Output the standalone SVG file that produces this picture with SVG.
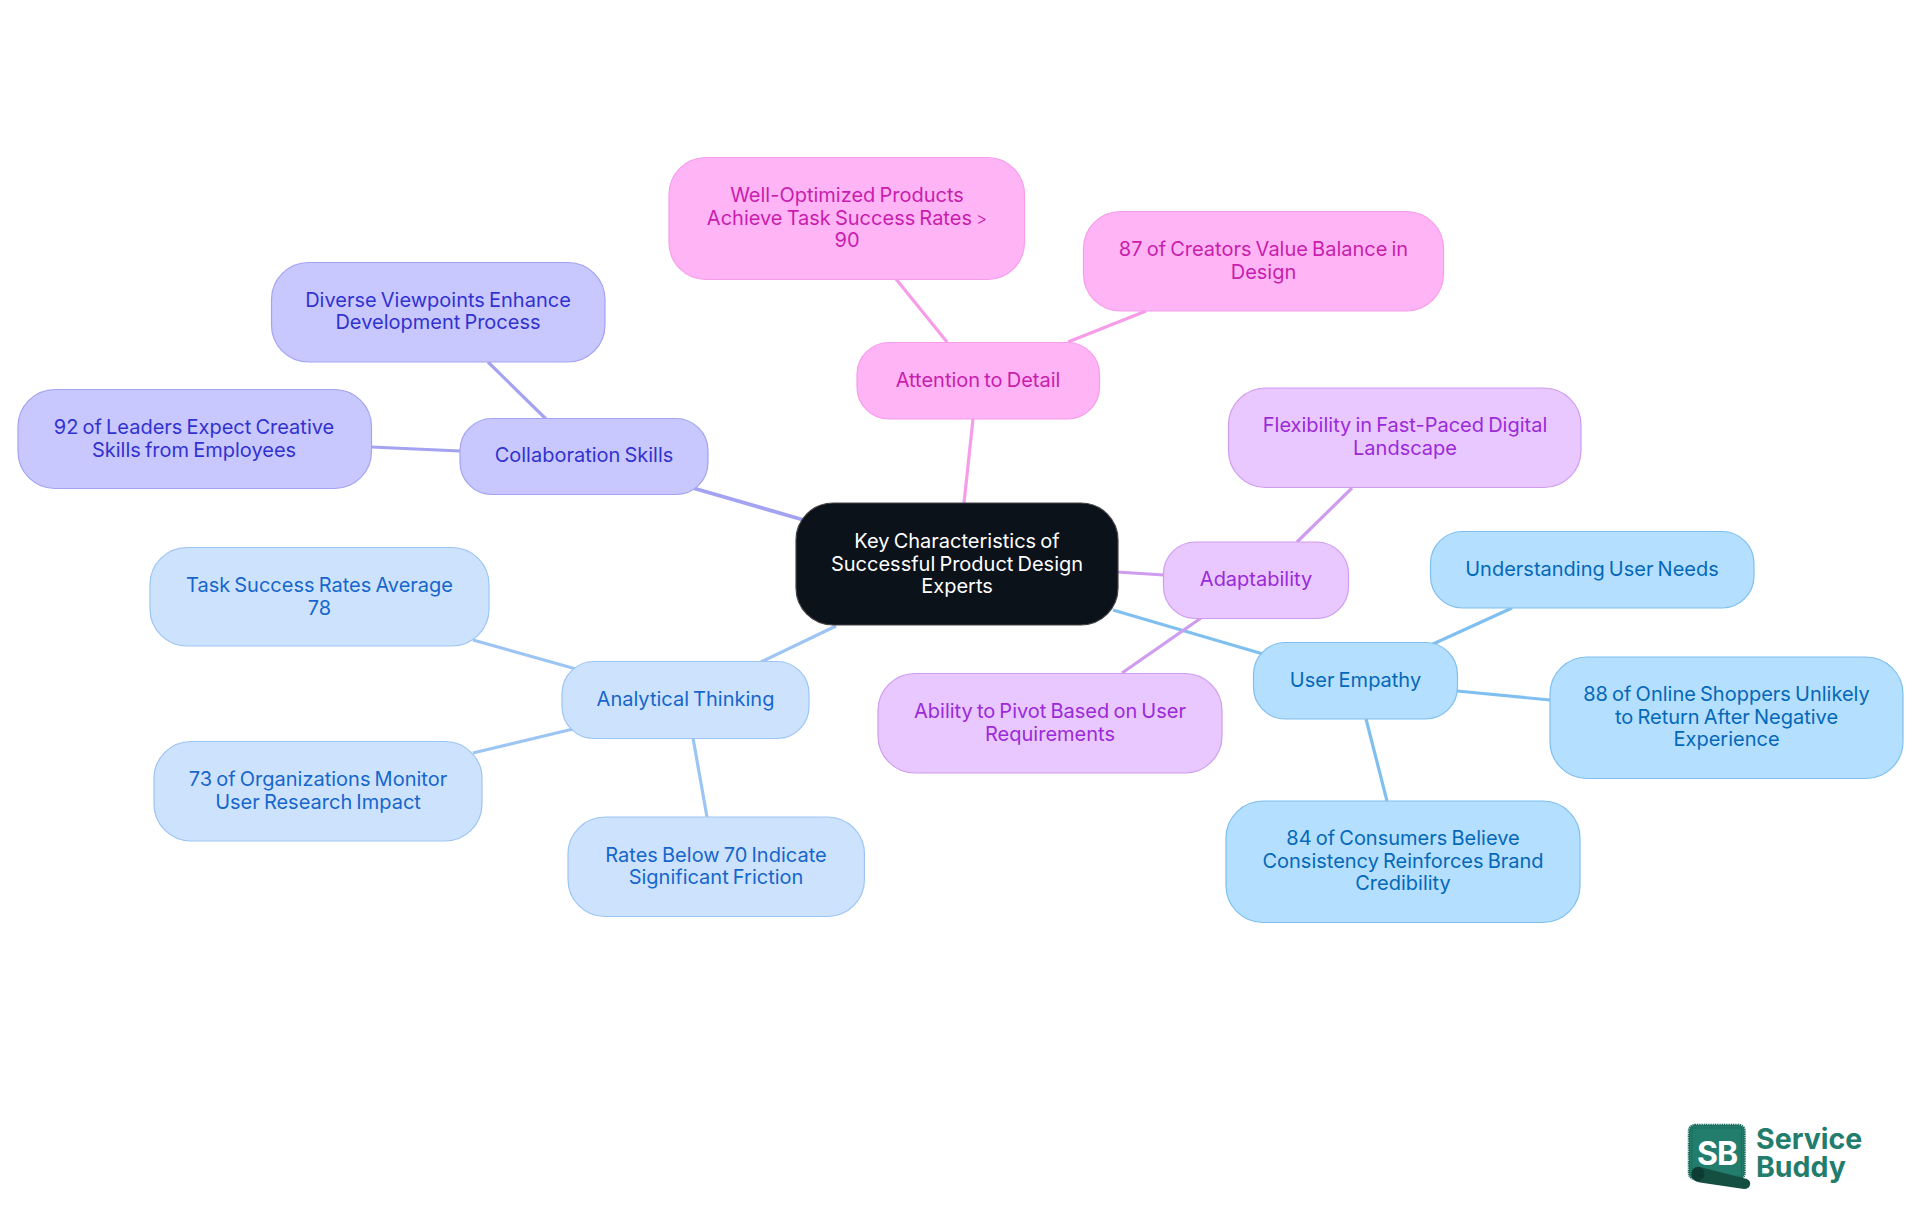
<svg xmlns="http://www.w3.org/2000/svg" width="1920" height="1215" viewBox="0 0 1920 1215">
<style>
text{font-family:"Inter","Noto Sans",sans-serif;font-size:20px;font-weight:400;word-spacing:-1.5px;text-anchor:middle}
.n rect{stroke-width:1.2}
#connectors line{fill:none;stroke-width:3.2}
.pink rect{fill:#ffb5f5;stroke:#f79ceb}.pink text{fill:#c81dae}
.purple rect{fill:#e8c8ff;stroke:#cf9cf0}.purple text{fill:#9b2ad9}
.sky rect{fill:#b4dfff;stroke:#7fc0f0}.sky text{fill:#0568b8}
.blue rect{fill:#cde3fd;stroke:#9dc5f3}.blue text{fill:#1766cc}
.indigo rect{fill:#c8c8fe;stroke:#a3a3f2}.indigo text{fill:#3232d0}
.root rect{fill:#0b121a;stroke:#444}.root text{fill:#fff}
.lp{stroke:#f79ce8}.lv{stroke:#cf9cf0}.ls{stroke:#7fc0f0}.lb{stroke:#9dc5f3}.li{stroke:#a3a3f2}
#logo text{font-weight:650;font-size:28.5px;fill:#237d6c;text-anchor:start;word-spacing:0}
#logo .sb{font-weight:700;font-size:32px;fill:#fff;text-anchor:middle;letter-spacing:-1px}
</style>
<rect width="1920" height="1215" fill="#fff"/>
<g id="connectors">
<line class="lp" x1="973" y1="419" x2="964" y2="503"/>
<line class="lp" x1="896" y1="279" x2="947" y2="342"/>
<line class="lp" x1="1146" y1="311" x2="1068" y2="342"/>
<line class="li" style="stroke-width:3.8" x1="693" y1="488" x2="802" y2="519.5"/>
<line class="li" x1="371" y1="447" x2="460" y2="451"/>
<line class="li" x1="488" y1="362" x2="546" y2="419"/>
<line class="lb" x1="836" y1="626" x2="761" y2="662"/>
<line class="lb" x1="473" y1="640" x2="576" y2="669"/>
<line class="lb" x1="473" y1="753" x2="573" y2="729"/>
<line class="lb" x1="707" y1="817" x2="693" y2="738"/>
<line class="lv" x1="1117" y1="572" x2="1164" y2="575"/>
<line class="lv" x1="1352" y1="488" x2="1297" y2="542"/>
<line class="ls" x1="1113" y1="610" x2="1263" y2="654"/>
<line class="lv" x1="1122" y1="673" x2="1201" y2="618"/>
<line class="ls" x1="1512" y1="608" x2="1433" y2="644"/>
<line class="ls" x1="1550" y1="700" x2="1457" y2="691"/>
<line class="ls" x1="1387" y1="801" x2="1366" y2="719"/>
</g>
<g id="root" class="n root"><rect x="796" y="503" width="322" height="122" rx="37"/><text x="957" y="548"><tspan x="957">Key Characteristics of</tspan><tspan x="957" dy="22.7">Successful Product Design</tspan><tspan x="957" dy="22.7">Experts</tspan></text></g>
<g id="attention" class="n pink"><rect x="857" y="342.5" width="242.5" height="76.5" rx="32"/><text x="978" y="387">Attention to Detail</text></g>
<g id="well-optimized" class="n pink"><rect x="669" y="157.5" width="355.5" height="122" rx="37"/><text x="847" y="202"><tspan x="847">Well-Optimized Products</tspan><tspan x="847" dy="22.7">Achieve Task Success Rates <tspan font-size="17" font-weight="300">&gt;</tspan></tspan><tspan x="847" dy="22.7">90</tspan></text></g>
<g id="creators" class="n pink"><rect x="1083.5" y="211.5" width="360" height="99.5" rx="37"/><text x="1263.5" y="256"><tspan x="1263.5">87 of Creators Value Balance in</tspan><tspan x="1263.5" dy="22.7">Design</tspan></text></g>
<g id="adaptability" class="n purple"><rect x="1163.5" y="542" width="185" height="76.5" rx="32"/><text x="1256" y="586">Adaptability</text></g>
<g id="flexibility" class="n purple"><rect x="1228.5" y="388" width="352.5" height="99.5" rx="37"/><text x="1405" y="432"><tspan x="1405">Flexibility in Fast-Paced Digital</tspan><tspan x="1405" dy="22.7">Landscape</tspan></text></g>
<g id="pivot" class="n purple"><rect x="878" y="673.5" width="344" height="99.5" rx="37"/><text x="1050" y="718"><tspan x="1050">Ability to Pivot Based on User</tspan><tspan x="1050" dy="22.7">Requirements</tspan></text></g>
<g id="user-empathy" class="n sky"><rect x="1253.5" y="642.5" width="204" height="76.5" rx="32"/><text x="1355.5" y="687">User Empathy</text></g>
<g id="understanding" class="n sky"><rect x="1430.5" y="531.5" width="323.5" height="76.5" rx="32"/><text x="1592" y="576">Understanding User Needs</text></g>
<g id="shoppers" class="n sky"><rect x="1550" y="657" width="353" height="121.5" rx="37"/><text x="1726.5" y="701"><tspan x="1726.5">88 of Online Shoppers Unlikely</tspan><tspan x="1726.5" dy="22.7">to Return After Negative</tspan><tspan x="1726.5" dy="22.7">Experience</tspan></text></g>
<g id="consumers" class="n sky"><rect x="1226" y="801" width="354" height="121.5" rx="37"/><text x="1403" y="845"><tspan x="1403">84 of Consumers Believe</tspan><tspan x="1403" dy="22.7">Consistency Reinforces Brand</tspan><tspan x="1403" dy="22.7">Credibility</tspan></text></g>
<g id="analytical" class="n blue"><rect x="562" y="661.5" width="247" height="77" rx="32"/><text x="685.5" y="705.500">Analytical Thinking</text></g>
<g id="task-success" class="n blue"><rect x="150" y="547.5" width="339" height="98.5" rx="37"/><text x="319.5" y="592"><tspan x="319.5">Task Success Rates Average</tspan><tspan x="319.5" dy="22.7">78</tspan></text></g>
<g id="organizations" class="n blue"><rect x="154" y="741.5" width="328" height="99.5" rx="37"/><text x="318" y="786"><tspan x="318">73 of Organizations Monitor</tspan><tspan x="318" dy="22.7">User Research Impact</tspan></text></g>
<g id="rates" class="n blue"><rect x="568" y="817" width="296.5" height="99.5" rx="37"/><text x="716" y="861.5"><tspan x="716">Rates Below 70 Indicate</tspan><tspan x="716" dy="22.7">Significant Friction</tspan></text></g>
<g id="collaboration" class="n indigo"><rect x="460" y="418.5" width="248" height="76" rx="32"/><text x="584" y="462">Collaboration Skills</text></g>
<g id="diverse" class="n indigo"><rect x="271.5" y="262.5" width="333.5" height="99.5" rx="37"/><text x="438" y="306.5"><tspan x="438">Diverse Viewpoints Enhance</tspan><tspan x="438" dy="22.7">Development Process</tspan></text></g>
<g id="leaders" class="n indigo"><rect x="18" y="389.5" width="353.5" height="99" rx="37"/><text x="194" y="433.8"><tspan x="194">92 of Leaders Expect Creative</tspan><tspan x="194" dy="22.7">Skills from Employees</tspan></text></g>
<g id="logo">
<rect x="1689" y="1125" width="55.5" height="54" rx="6" fill="#237d6c" stroke="#1b6b5c" stroke-width="2.5" stroke-dasharray="1.2 0.6"/>
<rect x="1692" y="1128" width="49.5" height="48" fill="none" stroke="#1b6b5c" stroke-width="0.8"/>
<text class="sb" x="1717" y="1165">SB</text>
<path d="M1698 1166.500 L1747 1179 Q1751 1181 1750 1185 Q1749 1189 1744 1189 L1700 1182.500 Q1691.500 1181 1691.500 1174 Q1692 1167 1698 1166.500Z" fill="#154f42"/>
<ellipse cx="1698" cy="1174" rx="6.500" ry="7" fill="#0f3c32"/>
<text x="1756" y="1149"><tspan x="1756">Service</tspan><tspan x="1756" dy="28">Buddy</tspan></text>
</g>
</svg>
